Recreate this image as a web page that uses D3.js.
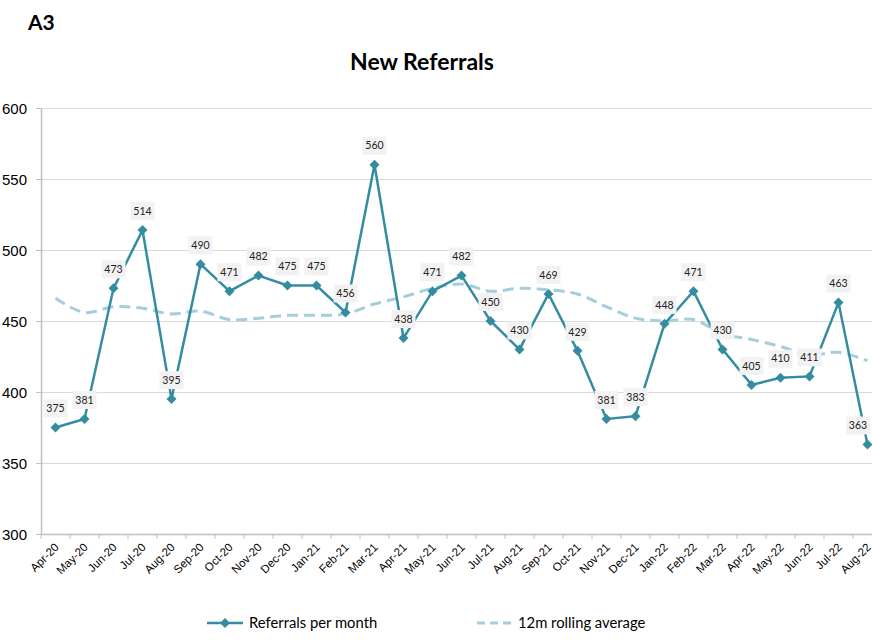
<!DOCTYPE html>
<html>
<head>
<meta charset="utf-8">
<script src="https://cdn.jsdelivr.net/npm/d3@7"></script>
<style>
  body { margin: 0; background: #fff; font-family: Lato, "Open Sans", sans-serif; }
  .grid line { stroke: #d9d9d9; }
  .grid .domain { display: none; }
  .ejes text { fill: #000; }
</style>
</head>
<body>
<div id="graf"></div>
<script>
const months = ["Apr-20","May-20","Jun-20","Jul-20","Aug-20","Sep-20","Oct-20","Nov-20","Dec-20",
  "Jan-21","Feb-21","Mar-21","Apr-21","May-21","Jun-21","Jul-21","Aug-21","Sep-21","Oct-21","Nov-21","Dec-21",
  "Jan-22","Feb-22","Mar-22","Apr-22","May-22","Jun-22","Jul-22","Aug-22"]
const referrals = [375,381,473,514,395,490,471,482,475,475,456,560,438,471,482,450,430,469,429,381,383,448,471,430,405,410,411,463,363]
const rolling = [466,456,460,459,455,457,451,452,454,454,455,462,467,473,476,471,473,472,469,460,452,450,451,441,437,432,426,428,422]
const yTicks = [300,350,400,450,500,550,600]

const anchoTotal = 872
const altoTotal = 642
const margins = { left: 41, top: 108, right: -10, bottom: 108 }
const ancho = anchoTotal - margins.left - margins.right
const alto = altoTotal - margins.top - margins.bottom

const svg = d3.select("#graf").append("svg")
  .attr("width", anchoTotal)
  .attr("height", altoTotal)

svg.append("text").attr("x", 28).attr("y", 30)
  .attr("font-size", 21).attr("font-weight", "bold").text("A3")
svg.append("text").attr("x", 422).attr("y", 70).attr("text-anchor", "middle")
  .attr("font-size", 23).attr("font-weight", "bold").text("New Referrals")

const g = svg.append("g").attr("transform", `translate(${margins.left}, ${margins.top})`)

const x = d3.scaleBand().domain(months).range([0, ancho])
const y = d3.scaleLinear().domain([300, 600]).range([alto, 0])
const cx = (d, i) => x(months[i]) + x.bandwidth() / 2

// grid
g.append("g").attr("class", "grid")
  .call(d3.axisLeft(y).tickValues(yTicks).tickSize(-ancho).tickFormat(""))

// y axis
const yAx = g.append("g").attr("class", "ejes")
  .call(d3.axisLeft(y).tickValues(yTicks).tickSize(5).tickSizeOuter(0))
yAx.select(".domain").attr("stroke", "#bfbfbf").attr("stroke-width", 1.5)
yAx.selectAll(".tick line").attr("stroke", "#bfbfbf")
yAx.selectAll("text").attr("font-size", 15).attr("x", -14).attr("dy", "0.35em")

// x axis
const xAx = g.append("g").attr("class", "ejes")
  .attr("transform", `translate(0, ${alto})`)
  .call(d3.axisBottom(x).tickSize(0))
xAx.select(".domain").attr("stroke", "#bfbfbf").attr("stroke-width", 1.5)
xAx.selectAll(".tick text")
  .attr("font-size", 11.5)
  .attr("text-anchor", "end")
  .attr("dy", "0.35em")
  .attr("transform", "translate(-1, 9) rotate(-45)")
g.append("g").selectAll("line")
  .data(months.concat(["end"]))
  .enter().append("line")
  .attr("x1", (d, i) => i * x.step())
  .attr("x2", (d, i) => i * x.step())
  .attr("y1", alto).attr("y2", alto + 5)
  .attr("stroke", "#bfbfbf")

// rolling average
g.append("path")
  .datum(rolling)
  .attr("fill", "none")
  .attr("stroke", "#a5cedb")
  .attr("stroke-width", 3)
  .attr("stroke-dasharray", "11,6")
  .attr("d", d3.line().x(cx).y((d) => y(d)).curve(d3.curveCatmullRom))

// referrals
g.append("path")
  .datum(referrals)
  .attr("fill", "none")
  .attr("stroke", "#348ca1")
  .attr("stroke-width", 2.5)
  .attr("d", d3.line().x(cx).y((d) => y(d)))

const diamond = d3.symbol().type(d3.symbolSquare).size(50)
g.selectAll(".pt").data(referrals).enter().append("path")
  .attr("class", "pt")
  .attr("d", diamond)
  .attr("fill", "#348ca1")
  .attr("transform", (d, i) => `translate(${cx(d, i)}, ${y(d)}) rotate(45)`)

// labels kept inside the window at the right edge
const maxLabX = anchoTotal - margins.left - 14
const labs = g.selectAll(".lab").data(referrals).enter().append("g")
  .attr("class", "lab")
  .attr("transform", (d, i) => `translate(${Math.min(cx(d, i), maxLabX)}, ${y(d) - 19})`)
labs.append("rect").attr("x", -12).attr("y", -9).attr("width", 24).attr("height", 18)
  .attr("fill", "#f2f2f2")
labs.append("text").attr("text-anchor", "middle").attr("dy", "0.35em")
  .attr("font-size", 10.5).attr("fill", "#222").text((d) => d)

// legend
const leg = svg.append("g").attr("transform", "translate(0, 623)")
leg.append("line").attr("x1", 207).attr("x2", 243).attr("stroke", "#348ca1").attr("stroke-width", 2.5)
leg.append("path").attr("d", diamond).attr("fill", "#348ca1").attr("transform", "translate(225, 0) rotate(45)")
leg.append("text").attr("x", 249).attr("dy", "0.35em").attr("font-size", 14.8).text("Referrals per month")
leg.append("line").attr("x1", 477).attr("x2", 511).attr("stroke", "#a5cedb")
  .attr("stroke-width", 3).attr("stroke-dasharray", "8,5")
leg.append("text").attr("x", 518).attr("dy", "0.35em").attr("font-size", 14.8).text("12m rolling average")
</script>
</body>
</html>
